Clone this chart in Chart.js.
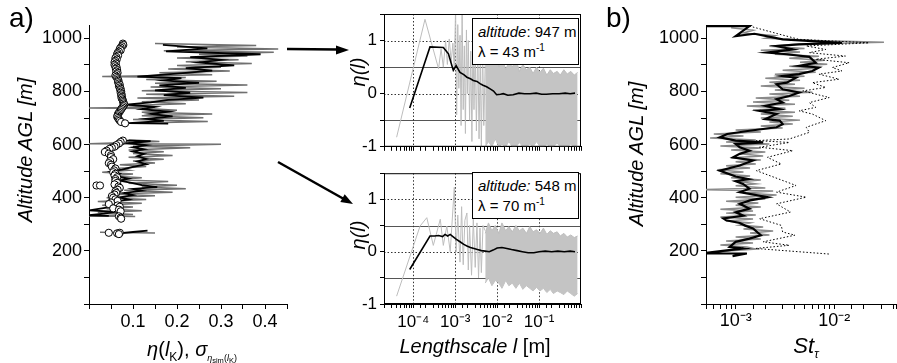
<!DOCTYPE html>
<html>
<head>
<meta charset="utf-8">
<script src="https://cdn.jsdelivr.net/npm/chart.js@4.4.1/dist/chart.umd.min.js"></script>
<style>
body { margin: 0; background: #fff; }
#wrap { position: relative; width: 897px; height: 363px; overflow: hidden; font-family: 'Liberation Sans', Arial, sans-serif; color: #000; background: #fff; }
canvas { position: absolute; }
.lbl { position: absolute; white-space: nowrap; line-height: 1; }
.rot { transform: translate(-50%, -50%) rotate(-90deg); }
.ctr { transform: translate(-50%, -50%); }
.box { position: absolute; border: 1px solid #000; background: #fff; font-size: 15px; box-sizing: border-box; padding: 3px 0 0 5px; line-height: 20px; }
.box sup { font-size: 10px; line-height: 0; }
sub { line-height: 0; }
</style>
</head>
<body>
<div id="wrap">
  <canvas id="cA" width="300" height="363" style="left:0px;top:0px"></canvas>
  <canvas id="cT" width="260" height="160" style="left:330px;top:0px"></canvas>
  <canvas id="cB" width="260" height="203" style="left:330px;top:160px"></canvas>
  <canvas id="cS" width="297" height="363" style="left:600px;top:0px"></canvas>

  <div class="lbl" style="left:9px;top:4px;font-size:28px">a)</div>
  <div class="lbl" style="left:606px;top:4px;font-size:28px">b)</div>
  <div class="lbl rot" style="left:25px;top:150px;font-size:20px;font-style:italic">Altitude AGL [m]</div>
  <div class="lbl rot" style="left:636px;top:154px;font-size:20px;font-style:italic">Altitude AGL [m]</div>
  <div class="lbl rot" style="left:358px;top:72px;font-size:20px;font-style:italic">η(l)</div>
  <div class="lbl rot" style="left:358px;top:235px;font-size:20px;font-style:italic">η(l)</div>
  <div class="lbl ctr" style="left:475px;top:346px;font-size:20px"><i>Lengthscale l</i> [m]</div>
  <div class="lbl ctr" style="left:192px;top:350px;font-size:20px"><i>η</i>(<i>l</i><sub style="font-size:12px">K</sub>), <i>σ</i><sub style="font-size:9px"><i>η</i><sub>sim</sub>(<i>l</i><sub>K</sub>)</sub></div>
  <div class="lbl ctr" style="left:806px;top:346px;font-size:22px"><i>St</i><sub style="font-size:12px"><i>τ</i></sub></div>

  <div class="box" style="left:472px;top:18px;width:107px;height:47px"><div><i>altitude</i>: 947 m</div><div>λ = 43 m<sup>-1</sup></div></div>
  <div class="box" style="left:472px;top:172px;width:107px;height:47px"><div><i>altitude:</i> 548 m</div><div>λ = 70 m<sup>-1</sup></div></div>

  <svg width="897" height="363" style="position:absolute;left:0;top:0;pointer-events:none">
    <line x1="287" y1="49" x2="338" y2="49.5" stroke="#000" stroke-width="2.5"/>
    <polygon points="349,50 336,45.5 336,54.5" fill="#000"/>
    <line x1="278" y1="162" x2="343" y2="198.5" stroke="#000" stroke-width="2.5"/>
    <polygon points="353,204 340.3,202 344.7,194.2" fill="#000"/>
  </svg>
</div>

<script>
Chart.defaults.font.family = "'Liberation Sans', Arial, sans-serif";
Chart.defaults.color = '#000';

// ---- panel a): eta(l_K) profile (black), spread (grey), sigma of simulated eta (circles)
const aBlackAlt = [975,962,951,940,929,919,909,898,888,878,867,856,850,841,832,823,813,804,795,786,777,768,759,750,742,733,724,715,706,697,689,681,679,null,
  615,613,605,598,590,582,574,565,556,546,536,526,516,506,498,490,481,472,464,455,447,440,433,426,418,410,401,393,384,374,363,352,347,340,334,332,null,276,271,266];
const aBlackEta = [0.168,0.269,0.175,0.39,0.23,0.30,0.25,0.33,0.22,0.28,0.20,0.11,0.21,0.17,0.25,0.16,0.22,0.15,0.23,0.17,0.26,0.18,0.14,0.085,0.15,0.12,0.18,0.14,0.19,0.13,0.17,0.09,0.18,null,
  0.08,0.14,0.09,0.13,0.10,0.125,0.10,0.125,0.11,0.13,0.11,0.13,0.10,0.075,0.05,0.07,0.06,0.09,0.07,0.10,0.12,0.155,0.10,0.12,0.08,0.10,0.07,0.09,0.05,0.07,0.04,0.0,0.06,0.035,0.0,0.045,null,0.133,0.10,0.07];

const aGrayAlt = [980,973,967,960,953,947,940,933,926,919,912,905,898,891,884,877,870,863,856,852,845,838,831,824,817,810,803,796,789,782,775,768,761,754,747,740,738,736,729,722,715,708,701,694,687,680,null,
  618,612,603,601,594,588,580,573,566,559,552,545,538,531,524,517,510,503,496,489,482,475,468,461,454,447,440,434,428,421,414,407,400,393,386,379,372,365,358,351,344,337,331,329,null,270,267];
const aGrayEta = [0.15,0.38,0.20,0.43,0.17,0.42,0.25,0.36,0.20,0.34,0.22,0.37,0.20,0.30,0.18,0.32,0.16,0.28,0.03,0.22,0.13,0.29,0.15,0.36,0.14,0.30,0.12,0.36,0.13,0.33,0.11,0.25,0.12,0.22,0.09,0.15,0.0,0.13,0.20,0.12,0.28,0.12,0.26,0.10,0.27,0.10,null,
  0.09,0.16,0.0,0.30,0.10,0.23,0.09,0.17,0.10,0.19,0.09,0.17,0.10,0.15,0.07,0.13,0.06,0.09,0.03,0.10,0.05,0.12,0.06,0.18,0.09,0.20,0.12,0.22,0.08,0.19,0.05,0.15,0.04,0.13,0.02,0.12,0.03,0.10,0.04,0.12,0.02,0.10,0.0,0.105,null,0.025,0.15];

const aSigAlt = [980,975,970,965,960,955,950,945,940,935,930,925,920,915,910,905,900,895,890,885,880,875,870,865,860,855,850,845,840,835,830,825,820,815,810,805,800,795,790,785,780,775,770,765,760,755,750,745,740,735,730,725,720,715,710,705,700,695,690,685,680,
  615,610,604,598,592,588,584,577,572,566,560,553,545,538,530,524,517,510,503,496,490,484,477,470,463,456,450,446,446,442,437,430,424,418,412,406,400,394,388,382,376,371,366,360,355,349,330,325,321,268,266,268,263];
const aSig = [0.077,0.078,0.075,0.072,0.070,0.072,0.068,0.065,0.064,0.066,0.062,0.060,0.063,0.060,0.058,0.061,0.058,0.060,0.063,0.061,0.064,0.062,0.065,0.063,0.060,0.062,0.064,0.066,0.067,0.066,0.068,0.070,0.068,0.070,0.072,0.071,0.073,0.072,0.074,0.073,0.075,0.074,0.076,0.077,0.078,0.079,0.080,0.078,0.076,0.074,0.072,0.070,0.068,0.066,0.065,0.064,0.066,0.068,0.070,0.073,0.082,
  0.077,0.072,0.068,0.062,0.058,0.052,0.047,0.040,0.036,0.045,0.050,0.050,0.055,0.048,0.045,0.050,0.052,0.060,0.057,0.055,0.060,0.058,0.064,0.060,0.060,0.064,0.058,0.017,0.025,0.067,0.070,0.065,0.060,0.062,0.058,0.052,0.055,0.060,0.065,0.050,0.045,0.065,0.070,0.055,0.068,0.072,0.068,0.072,0.073,0.045,0.064,0.070,0.068];

// ---- middle: eta(l) against lengthscale, at 947 m (top) and 548 m (bottom)
const topGrayLen = [4.0e-5,1.9e-4,4.0e-4,4.6e-4,5.2e-4,5.9e-4,6.5e-4,7.2e-4,8.0e-4,8.8e-4,9.5e-4,1.02e-3,1.08e-3,1.15e-3,1.22e-3,1.3e-3,1.38e-3,1.46e-3,1.55e-3,1.65e-3,1.75e-3,1.85e-3,1.95e-3,2.05e-3,2.2e-3,2.35e-3,2.5e-3,2.65e-3,2.8e-3,3.0e-3,3.2e-3,3.45e-3,3.7e-3,3.95e-3,4.2e-3,4.5e-3,4.8e-3,5.2e-3];
const topGrayEta = [-0.82,1.40,0.47,0.84,0.50,1.00,0.55,1.03,0.60,0.95,0.45,1.60,-0.40,1.30,0.10,1.10,-0.60,1.60,-0.30,0.90,-0.75,1.20,0.00,1.00,-0.50,0.80,-0.90,1.10,-0.30,0.90,-0.70,0.95,-0.85,0.70,-1.00,0.90,-0.60,0.60];
const botGrayLen = [4.0e-5,1.45e-4,2.1e-4,3.0e-4,4.4e-4,5.2e-4,6.3e-4,7.6e-4,9.5e-4,1.05e-3,1.15e-3,1.3e-3,1.42e-3,1.55e-3,1.7e-3,1.9e-3,2.05e-3,2.2e-3,2.45e-3,2.7e-3,3.0e-3,3.3e-3,3.6e-3,3.9e-3,4.2e-3,4.6e-3,5.2e-3];
const botGrayEta = [-0.85,0.49,0.65,0.12,0.62,0.12,0.49,0.0,1.23,0.0,0.70,-0.20,0.86,-0.25,0.60,0.74,-0.35,0.50,-0.45,0.62,-0.30,0.55,-0.50,0.45,-0.40,0.50,0.40];

// dense grey scatter at large lengthscales: upper and lower envelope
const bandLen = [5.2e-3,6.2e-3,7.5e-3,9.0e-3,0.011,0.013,0.016,0.019,0.023,0.028,0.034,0.041,0.050,0.060,0.072,0.087,0.105,0.127,0.153,0.185,0.22,0.27,0.32,0.39,0.47,0.57,0.69,0.83];
const topBandHi = [0.6,0.9,0.55,0.8,0.5,0.7,0.45,0.6,0.5,0.65,0.42,0.55,0.45,0.5,0.38,0.5,0.4,0.48,0.35,0.45,0.38,0.42,0.35,0.45,0.37,0.42,0.35,0.4];
const topBandLo = [-1.0,-0.9,-1.0,-0.85,-1.0,-0.95,-1.0,-0.9,-1.0,-1.0,-0.92,-1.0,-1.0,-0.95,-1.0,-0.9,-1.0,-1.0,-0.95,-1.0,-1.0,-0.93,-1.0,-1.0,-1.0,-0.95,-1.0,-1.0];
const botBandHi = [0.35,0.55,0.4,0.5,0.35,0.55,0.4,0.48,0.38,0.5,0.4,0.45,0.35,0.48,0.38,0.42,0.35,0.45,0.33,0.4,0.35,0.38,0.3,0.35,0.28,0.32,0.27,0.3];
const botBandLo = [-0.6,-0.5,-0.65,-0.55,-0.6,-0.7,-0.55,-0.65,-0.6,-0.7,-0.6,-0.72,-0.65,-0.7,-0.75,-0.68,-0.75,-0.7,-0.78,-0.72,-0.8,-0.75,-0.78,-0.82,-0.75,-0.8,-0.85,-0.8];

const topBlackLen = [8.2e-5,2.5e-4,5.2e-4,6.9e-4,8.3e-4,9.0e-4,1.05e-3,1.3e-3,1.6e-3,1.9e-3,2.3e-3,2.7e-3,3.3e-3,3.9e-3,4.6e-3,5.6e-3,6.8e-3,8.2e-3,9.7e-3,0.012,0.014,0.018,0.024,0.033,0.045,0.061,0.085,0.115,0.15,0.21,0.3,0.42,0.55,0.72];
const topBlackEta = [-0.27,0.88,0.87,0.75,0.53,0.44,0.53,0.40,0.36,0.31,0.28,0.25,0.23,0.19,0.16,0.13,0.09,0.05,-0.02,-0.01,0.0,-0.03,-0.02,0.01,0.0,0.0,0.01,-0.01,-0.01,0.0,0.0,0.01,0.0,0.01];
const botBlackLen = [8.2e-5,2.5e-4,3.2e-4,4.0e-4,5.0e-4,5.7e-4,6.6e-4,7.6e-4,8.8e-4,1.05e-3,1.3e-3,1.6e-3,1.9e-3,2.3e-3,2.8e-3,3.4e-3,4.2e-3,5.2e-3,6.5e-3,8e-3,0.01,0.013,0.017,0.022,0.03,0.04,0.055,0.075,0.1,0.14,0.2,0.28,0.4,0.55,0.72];
const botBlackEta = [-0.34,0.30,0.30,0.31,0.29,0.33,0.30,0.33,0.29,0.24,0.19,0.14,0.11,0.08,0.06,0.04,0.02,0.01,0.0,0.03,0.07,0.08,0.06,0.04,0.02,0.0,-0.02,-0.02,0.0,0.01,0.0,0.01,0.0,0.01,0.0];

// ---- panel b): St_tau profile, three estimates
const bBlackAlt = [1046,1046,1008,1017,996,983,977,971,958,946,940,930,908,896,890,877,865,858,852,833,827,808,796,783,771,758,746,733,727,715,696,690,677,665,652,640,627,615,608,602,590,577,565,552,540,521,502,480,470,462,452,434,421,402,390,377,359,345,332,322,315,305,295,284,259,246,234,215,209,190,190,180];
const bBlack = [4.5e-4,1.38e-3,1.0e-3,1.55e-3,3.0e-3,0.012,4.4e-3,2.6e-3,3.8e-3,2.1e-3,3.3e-3,5.6e-3,6.5e-3,4.4e-3,7.0e-3,6.0e-3,4.4e-3,3.0e-3,4.1e-3,3.3e-3,2.6e-3,3.0e-3,4.4e-3,3.5e-3,2.6e-3,3.0e-3,2.0e-3,2.8e-3,1.75e-3,2.6e-3,2.0e-3,2.8e-3,3.0e-3,2.6e-3,1.38e-3,8.2e-4,6.9e-4,1.0e-3,1.9e-3,1.0e-3,1.1e-3,1.38e-3,1.1e-3,9.4e-4,1.5e-3,1.1e-3,6.9e-4,1.0e-3,1.35e-3,1.0e-3,1.19e-3,1.38e-3,1.1e-3,2.12e-3,1.4e-3,1.1e-3,1.38e-3,1.0e-3,1.2e-3,7.5e-4,8.0e-4,1.1e-3,1.25e-3,1.5e-3,1.8e-3,1.38e-3,1.0e-3,8.7e-4,1.2e-3,4.5e-4,1.3e-3,9.3e-4];
const bDotAlt = [1046,1015,996,983,971,958,946,933,921,908,890,877,865,846,833,815,802,777,758,740,727,715,690,665,646,621,615,608,590,577,552,527,502,446,421,402,377,346,321,296,271,259,234,221,209,188];
const bDot = [1.38e-3,2.8e-3,4.4e-3,0.0225,5.2e-3,8.2e-3,5.6e-3,0.013,6.5e-3,0.0142,9.6e-3,0.012,7.0e-3,0.0112,6.0e-3,8.2e-3,4.8e-3,8.9e-3,5.6e-3,6.5e-3,4.4e-3,6.0e-3,8.2e-3,5.2e-3,5.6e-3,3.5e-3,1.62e-3,3.5e-3,1.75e-3,3.8e-3,2.1e-3,2.9e-3,1.62e-3,4.1e-3,2.6e-3,5.2e-3,2.6e-3,3.6e-3,1.75e-3,2.9e-3,3.0e-3,4.0e-3,1.9e-3,3.5e-3,1.6e-3,8.9e-3];
const bGrayAlt = [1040,1030,1020,1010,1000,992,985,978,970,962,955,948,940,932,925,917,910,902,895,887,880,872,865,857,850,842,835,827,820,812,805,797,790,782,775,767,760,752,745,737,730,722,715,707,700,692,685,677,670,662,655,647,640,632,625,617,610,602,595,587,580,572,565,557,550,542,535,527,520,512,505,497,490,482,475,467,460,452,445,437,430,425,418,410,402,395,387,380,372,365,357,350,342,335,327,320,312,305,297,290,282,275,267,260,252,245,237,230,222,215,207,200,192];
const bGray = [9e-4,1.5e-3,1.2e-3,2.5e-3,2.0e-3,6e-3,0.032,4e-3,2.2e-3,5e-3,1.8e-3,4.5e-3,2.5e-3,7e-3,3.5e-3,8e-3,4.5e-3,8.5e-3,3.5e-3,7e-3,3e-3,6.5e-3,2.5e-3,5e-3,2e-3,4.5e-3,2.2e-3,4e-3,1.8e-3,5e-3,2.5e-3,6e-3,2.2e-3,4.5e-3,1.6e-3,3.5e-3,1.5e-3,4e-3,1.3e-3,3.2e-3,1.5e-3,4e-3,1.8e-3,3.8e-3,1.8e-3,4.5e-3,2.2e-3,3.8e-3,1.8e-3,3e-3,1.0e-3,1.8e-3,6e-4,1.2e-3,5.5e-4,1.6e-3,8e-4,2.2e-3,7e-4,1.8e-3,9e-4,2.0e-3,1.1e-3,1.9e-3,9e-4,1.8e-3,1.0e-3,1.6e-3,8e-4,1.4e-3,6.5e-4,1.2e-3,7e-4,1.4e-3,9e-4,1.8e-3,1.1e-3,1.6e-3,1.0e-3,2.0e-3,4.5e-4,2.4e-3,1.2e-3,2.6e-3,1.0e-3,2.0e-3,8e-4,1.7e-3,1.0e-3,1.8e-3,7e-4,1.5e-3,8e-4,1.6e-3,7e-4,1.5e-3,8e-4,1.4e-3,1.1e-3,1.9e-3,1.2e-3,2.4e-3,1.4e-3,2.2e-3,1.0e-3,1.8e-3,8e-4,1.5e-3,7e-4,1.3e-3,1.6e-3,9e-4,5.5e-4];

// guide lines of the two small panels
const guideEta = [-0.5, 0, 0.5, 1];
const guideLen = [1e-4, 1e-3, 1e-2, 1e-1];

const SUP = { '-': '\u207B', '0': '\u2070', '1': '\u00B9', '2': '\u00B2', '3': '\u00B3', '4': '\u2074', '5': '\u2075', '6': '\u2076', '7': '\u2077', '8': '\u2078', '9': '\u2079' };

function decadeLabel(v, lo, hi) {
  const lg = Math.log10(v);
  const e = Math.round(lg);
  if (Math.abs(lg - e) > 1e-6 || e < lo || e > hi) return '';
  return '10' + String(e).split('').map(c => SUP[c]).join('');
}

// profile points: altitude on y, value on x (null = gap)
function profile(alts, vals) {
  return alts.map((a, i) => a === null ? { x: null, y: null } : { x: vals[i], y: a });
}
function curve(xs, ys) {
  return xs.map((x, i) => ({ x: x, y: ys[i] }));
}

// step 50 so that 1050 lands on a step and 1000 keeps its label
const altitudeAxis = {
  min: 0, max: 1050,
  ticks: {
    stepSize: 50, autoSkip: false, padding: 2,
    font: { size: 18 },
    callback: v => (v % 200 === 0 && v > 0) ? String(v) : ''
  },
  grid: {
    drawOnChartArea: false, tickLength: 5,
    tickColor: ctx => (ctx.tick && ctx.tick.value % 100 === 0) ? '#000' : 'rgba(0,0,0,0)'
  },
  border: { color: '#000', width: 1 }
};

const baseOptions = {
  responsive: false, animation: false, devicePixelRatio: 1,
  plugins: { legend: { display: false }, tooltip: { enabled: false } }
};

// panel a)
new Chart(document.getElementById('cA'), {
  type: 'scatter',
  data: {
    datasets: [
      { data: profile(aSigAlt, aSig), pointRadius: 3.6, pointBackgroundColor: '#fff', pointBorderColor: '#000', pointBorderWidth: 1, showLine: false },
      { data: profile(aBlackAlt, aBlackEta), showLine: true, borderColor: '#000', borderWidth: 1.8, pointRadius: 0, spanGaps: false },
      { data: profile(aGrayAlt, aGrayEta), showLine: true, borderColor: '#707070', borderWidth: 1.5, pointRadius: 0, spanGaps: false }
    ]
  },
  options: {
    ...baseOptions,
    layout: { padding: { left: 0, top: 25, right: 13, bottom: 0 } },
    scales: {
      x: {
        type: 'linear', min: 0, max: 0.45,
        ticks: {
          stepSize: 0.05, autoSkip: false, maxRotation: 0, padding: 2,
          font: { size: 18 },
          callback: v => { const t = Math.round(v * 100); return (t % 10 === 0 && t > 0) ? (t / 100).toFixed(1) : ''; }
        },
        grid: { drawOnChartArea: false, tickLength: 5, tickColor: '#000' },
        border: { color: '#000', width: 1 },
        afterFit: s => { s.height = 59; }
      },
      y: { ...altitudeAxis, afterFit: s => { s.width = 89; } }
    }
  }
});

// grid guides and frame of the two small panels
const midFrame = {
  id: 'midFrame',
  beforeDatasetsDraw(chart) {
    const { ctx, chartArea: a, scales } = chart;
    ctx.save();
    ctx.beginPath();
    ctx.rect(a.left, a.top, a.right - a.left, a.bottom - a.top);
    ctx.clip();
    ctx.lineWidth = 1;
    guideEta.forEach(v => {
      const py = Math.round(scales.y.getPixelForValue(v)) + 0.5;
      const whole = Number.isInteger(v);
      ctx.strokeStyle = whole ? '#333' : '#555';
      ctx.setLineDash(whole ? [1.5, 2] : []);
      ctx.beginPath(); ctx.moveTo(a.left, py); ctx.lineTo(a.right, py); ctx.stroke();
    });
    ctx.strokeStyle = '#333';
    ctx.setLineDash([1.5, 2]);
    guideLen.forEach(v => {
      const px = Math.round(scales.x.getPixelForValue(v)) + 0.5;
      ctx.beginPath(); ctx.moveTo(px, a.top); ctx.lineTo(px, a.bottom); ctx.stroke();
    });
    ctx.restore();
  },
  afterDatasetsDraw(chart) {
    const { ctx, chartArea: a } = chart;
    ctx.save();
    ctx.strokeStyle = '#000';
    ctx.lineWidth = 1;
    ctx.strokeRect(a.left + 0.5, a.top + 0.5, a.right - a.left - 1, a.bottom - a.top - 1);
    ctx.restore();
  }
};

function lengthChart(id, grayLen, grayEta, bandHi, bandLo, blackLen, blackEta, showLabels, xHeight, padTop) {
  new Chart(document.getElementById(id), {
    type: 'scatter',
    data: {
      datasets: [
        { data: curve(blackLen, blackEta), showLine: true, borderColor: '#000', borderWidth: 1.6, pointRadius: 0 },
        { data: curve(grayLen, grayEta), showLine: true, borderColor: '#bdbdbd', borderWidth: 1, pointRadius: 0 },
        { data: curve(bandLen, bandHi), showLine: true, borderColor: '#bdbdbd', borderWidth: 1, pointRadius: 0, fill: '+1', backgroundColor: '#c4c4c4' },
        { data: curve(bandLen, bandLo), showLine: true, borderColor: '#bdbdbd', borderWidth: 1, pointRadius: 0 }
      ]
    },
    options: {
      ...baseOptions,
      layout: { padding: { left: 0, top: padTop, right: 9, bottom: 0 } },
      scales: {
        x: {
          type: 'logarithmic', min: 2e-5, max: 1,
          ticks: {
            autoSkip: false, maxRotation: 0, padding: 4,
            font: { size: 17 },
            callback: v => showLabels ? decadeLabel(v, -4, -1) : ''
          },
          grid: { drawOnChartArea: false, tickLength: 4, tickColor: '#000' },
          border: { color: '#000', width: 1 },
          afterFit: s => { s.height = xHeight; }
        },
        y: {
          min: -1, max: 1.5,
          ticks: {
            stepSize: 0.5, autoSkip: false, padding: 3,
            font: { size: 17 },
            callback: v => Number.isInteger(v) ? String(v) : ''
          },
          grid: { drawOnChartArea: false, tickLength: 4, tickColor: '#000' },
          border: { color: '#000', width: 1 },
          afterFit: s => { s.width = 54; }
        }
      }
    },
    plugins: [midFrame]
  });
}

lengthChart('cT', topGrayLen, topGrayEta, topBandHi, topBandLo, topBlackLen, topBlackEta, false, 11, 14);
lengthChart('cB', botGrayLen, botGrayEta, botBandHi, botBandLo, botBlackLen, botBlackEta, true, 59, 9);

// panel b)
new Chart(document.getElementById('cS'), {
  type: 'scatter',
  data: {
    datasets: [
      { data: profile(bBlackAlt, bBlack), showLine: true, borderColor: '#000', borderWidth: 2.2, pointRadius: 0 },
      { data: profile(bDotAlt, bDot), showLine: true, borderColor: '#000', borderWidth: 1, borderDash: [1.5, 2], pointRadius: 0 },
      { data: profile(bGrayAlt, bGray), showLine: true, borderColor: '#8a8a8a', borderWidth: 1.5, pointRadius: 0 }
    ]
  },
  options: {
    ...baseOptions,
    layout: { padding: { left: 0, top: 25, right: 0, bottom: 0 } },
    scales: {
      x: {
        type: 'logarithmic', min: 5e-4, max: 0.0424,
        ticks: {
          autoSkip: false, maxRotation: 0, padding: 1,
          font: { size: 18 },
          callback: v => decadeLabel(v, -3, -2)
        },
        grid: { drawOnChartArea: false, tickLength: 5, tickColor: '#000' },
        border: { color: '#000', width: 1 },
        afterFit: s => { s.height = 59; }
      },
      y: { ...altitudeAxis, afterFit: s => { s.width = 106; } }
    }
  }
});
</script>
</body>
</html>
